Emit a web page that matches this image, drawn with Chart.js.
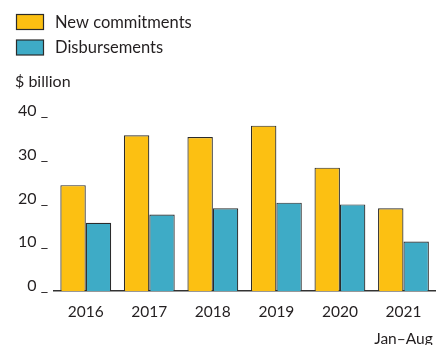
<!DOCTYPE html>
<html>
<head>
<meta charset="utf-8">
<script src="https://cdn.jsdelivr.net/npm/chart.js@4/dist/chart.umd.min.js"></script>
<style>
  html, body { margin: 0; padding: 0; background: #ffffff; }
  #wrap { position: relative; width: 441px; height: 345px; }
</style>
</head>
<body>
<div id="wrap"><canvas id="c" width="441" height="345"></canvas></div>
<script>
// Annual lending ($ billion)
const years = [['2016'], ['2017'], ['2018'], ['2019'], ['2020'], ['2021', 'Jan\u2013Aug']];
const newCommitments = [24.2, 35.6, 35.2, 37.8, 28.2, 18.9];
const disbursements = [15.6, 17.5, 18.9, 20.2, 19.8, 11.3];
const yTicks = [0, 10, 20, 30, 40];
const unitLabel = '$ billion';

const FONT = 'Lato, "Open Sans", sans-serif';
const INK = '#231f20';
const EDGE = '#2b2b2b';
const YELLOW = '#fcc012';
const TEAL = '#3eabc6';

// Stacked legend and unit caption in the top-left corner
const headerPlugin = {
  id: 'header',
  afterDraw(chart) {
    const ctx = chart.ctx;
    ctx.save();
    ctx.font = '16.5px ' + FONT;
    ctx.textBaseline = 'middle';
    ctx.textAlign = 'left';
    chart.data.datasets.forEach((ds, i) => {
      const cy = 22 + i * 25.5;
      ctx.fillStyle = ds.backgroundColor;
      ctx.fillRect(16.5, cy - 7.5, 27, 15);
      ctx.strokeStyle = EDGE;
      ctx.lineWidth = 1.2;
      ctx.strokeRect(16.5, cy - 7.5, 27, 15);
      ctx.fillStyle = INK;
      ctx.fillText(ds.label, 55, cy + 0.5);
    });
    ctx.font = '16px ' + FONT;
    ctx.fillText(unitLabel, 15, 82);
    ctx.restore();
  }
};

new Chart(document.getElementById('c'), {
  type: 'bar',
  data: {
    labels: years,
    datasets: [
      { label: 'New commitments', data: newCommitments, backgroundColor: YELLOW,
        borderColor: EDGE, borderWidth: 1.2, borderSkipped: 'bottom' },
      { label: 'Disbursements', data: disbursements, backgroundColor: TEAL,
        borderColor: EDGE, borderWidth: 1.2, borderSkipped: 'bottom' }
    ]
  },
  options: {
    responsive: false,
    animation: false,
    devicePixelRatio: 1,
    layout: { padding: { left: 0, right: 3, top: 116, bottom: 0 } },
    datasets: { bar: { categoryPercentage: 0.8, barPercentage: 1.0 } },
    plugins: {
      legend: { display: false },
      tooltip: { enabled: false }
    },
    scales: {
      x: {
        grid: { display: false, drawTicks: false },
        border: { display: true, color: '#333333', width: 1.5 },
        ticks: {
          color: INK,
          font: { family: FONT, size: 15.5, lineHeight: 1.7 },
          padding: 8,
          maxRotation: 0,
          autoSkip: false
        },
        afterFit(scale) { scale.height = 54; }
      },
      y: {
        min: 0,
        max: 40,
        afterBuildTicks(scale) { scale.ticks = yTicks.map(v => ({ value: v })); },
        grid: { display: false, drawTicks: false },
        border: { display: false },
        ticks: {
          color: INK,
          font: { family: FONT, size: 16 },
          padding: 6,
          labelOffset: -5,
          callback: v => v + ' _'
        },
        afterFit(scale) { scale.width = 54; }
      }
    }
  },
  plugins: [headerPlugin]
});
</script>
</body>
</html>
